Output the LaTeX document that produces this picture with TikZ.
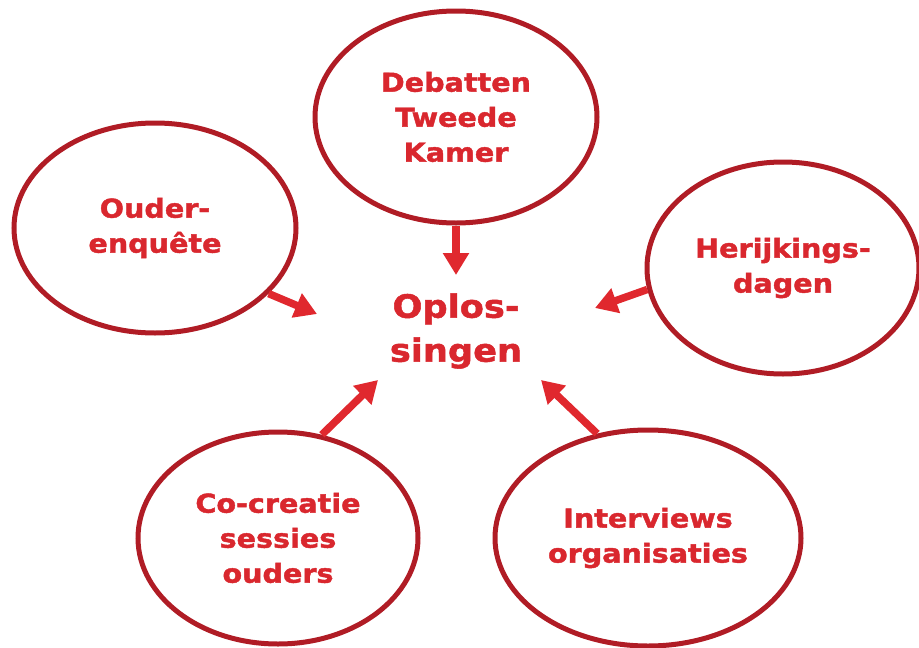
\documentclass[tikz,border=0pt]{standalone}
\usepackage{fontspec}
\setmainfont{DejaVu Sans}[FakeStretch=1.1, BoldFeatures={FakeBold=1.6}]
\usetikzlibrary{arrows.meta,shapes.geometric}
\definecolor{ringred}{HTML}{B01C25}
\definecolor{txtred}{HTML}{D9272E}
\definecolor{arrred}{HTML}{E0282E}
\tikzset{
  bubble/.style={ellipse, draw=ringred, line width=5pt, text=txtred,
    align=center, inner sep=0pt, font=\bfseries\fontsize{26}{35}\selectfont},
  centre/.style={text=txtred, align=center, inner sep=0pt,
    font=\bfseries\fontsize{32}{44}\selectfont},
  arr/.style={draw=arrred, line width=7.5pt,
    -{Triangle[width=25pt,length=22pt]}, fill=arrred}
}
\begin{document}
\begin{tikzpicture}[x=1pt,y=-1pt]
\useasboundingbox (0,0) rectangle (919,648);
\node[bubble, minimum width=282pt, minimum height=212pt] (deb) at (456,117) {Debatten\\Tweede\\Kamer};
\node[bubble, minimum width=282pt, minimum height=210pt] (oud) at (155,228) {Ouder-\\enquête};
\node[bubble, minimum width=272pt, minimum height=212pt] (her) at (783,268) {Herijkings-\\dagen};
\node[bubble, minimum width=280pt, minimum height=212pt] (cos) at (278,538) {Co-creatie\\sessies\\ouders};
\node[bubble, minimum width=306pt, minimum height=216pt] (int) at (648,538) {Interviews\\organisaties};
\node[centre] (sol) at (456,331) {Oplos-\\singen};
\coordinate (tdeb) at (456,275);
\coordinate (toud) at (317,314);
\coordinate (ther) at (595,308);
\coordinate (tcos) at (378,380);
\coordinate (tint) at (541,380);
\draw[arr] (deb.south) -- (tdeb);
\draw[arr] (oud.-30) -- (toud);
\draw[arr] (her.-171) -- (ther);
\draw[arr] (cos.67) -- (tcos);
\draw[arr] (int.116) -- (tint);
\end{tikzpicture}
\end{document}
